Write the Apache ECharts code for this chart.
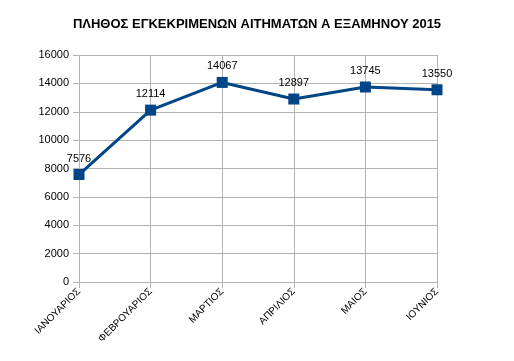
<!DOCTYPE html>
<html><head><meta charset="utf-8">
<script src="https://cdn.jsdelivr.net/npm/echarts@6/dist/echarts.min.js"></script>
<style>html,body{margin:0;padding:0;background:#fff}#c{width:514px;height:361px}</style>
</head><body><div id="c"></div>
<script>
const categories = ['ΙΑΝΟΥΑΡΙΟΣ','ΦΕΒΡΟΥΑΡΙΟΣ','ΜΑΡΤΙΟΣ','ΑΠΡΙΛΙΟΣ','ΜΑΙΟΣ','ΙΟΥΝΙΟΣ'];
const values = [7576, 12114, 14067, 12897, 13745, 13550];
const titleText = 'ΠΛΗΘΟΣ ΕΓΚΕΚΡΙΜΕΝΩΝ ΑΙΤΗΜΑΤΩΝ Α ΕΞΑΜΗΝΟΥ 2015';
const chart = echarts.init(document.getElementById('c'));
chart.setOption({
  animation: false,
  title: { text: titleText, left: 'center', top: 13, textStyle: { fontFamily: 'Liberation Sans', fontSize: 13, fontWeight: 'bold', color: '#000' } },
  grid: { left: 79, right: 77, top: 55, bottom: 79 },
  xAxis: {
    type: 'category', data: categories, boundaryGap: false,
    axisLine: { lineStyle: { color: '#b3b3b3' } },
    axisTick: { show: true, alignWithLabel: true, length: 6, lineStyle: { color: '#b3b3b3' } },
    splitLine: { show: true, lineStyle: { color: '#b3b3b3' } },
    axisLabel: { rotate: 45, fontFamily: 'Liberation Sans', fontSize: 10, color: '#000', margin: 8, interval: 0 }
  },
  yAxis: {
    type: 'value', min: 0, max: 16000, interval: 2000,
    axisLine: { show: false },
    axisTick: { show: true, length: 6, lineStyle: { color: '#b3b3b3' } },
    splitLine: { lineStyle: { color: '#b3b3b3' } },
    axisLabel: { fontFamily: 'Liberation Sans', fontSize: 11, color: '#000', margin: 10, formatter: v => String(v) }
  },
  series: [{
    type: 'line', data: values,
    lineStyle: { color: '#004586', width: 3 },
    itemStyle: { color: '#004586' },
    symbol: 'rect', symbolSize: 11,
    label: { show: true, position: 'top', distance: 5, fontFamily: 'Liberation Sans', fontSize: 11, color: '#000', formatter: p => String(p.value) }
  }]
});
</script></body></html>
